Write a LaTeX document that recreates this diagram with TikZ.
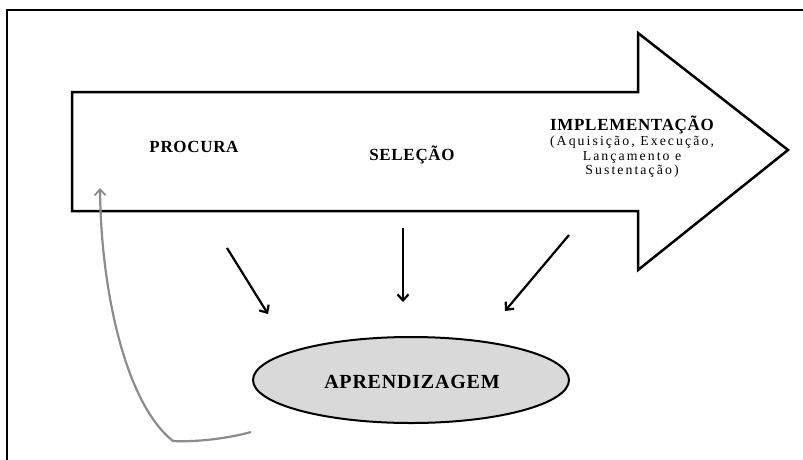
\documentclass[tikz,border=0pt]{standalone}
\usepackage{fontspec}
\setmainfont{Liberation Serif}
\newfontfamily\titlefont[LetterSpace=4]{Liberation Serif Bold}
\newfontfamily\detailfont[LetterSpace=15]{Liberation Serif}
\usetikzlibrary{arrows.meta}
\definecolor{ellfill}{HTML}{D9D9D9}
\definecolor{loopgray}{HTML}{8C8C8C}
\tikzset{
  stagelabel/.style={font=\titlefont\fontsize{17pt}{20pt}\selectfont, inner sep=0pt},
  detaillabel/.style={font=\detailfont\fontsize{13.8pt}{14.5pt}\selectfont, align=center, inner sep=0pt},
  flow/.style={line width=2.2pt, -{Straight Barb[length=6pt,width=11pt,line width=2.2pt]}},
  loopback/.style={line width=2.2pt, draw=loopgray, -{Straight Barb[length=6pt,width=11pt,line width=1.8pt]}},
}
\begin{document}
\begin{tikzpicture}[x=1pt,y=-1pt]
\useasboundingbox (0,0) rectangle (803,459);
% frame (top and left edges visible)
\draw[line width=1.6pt] (7,475) -- (7,10) -- (820,10);
% big process arrow
\draw[line width=2.5pt, line join=miter, fill=white]
  (72,92) -- (638,92) -- (638,33) -- (788,150) -- (638,270) -- (638,211) -- (72,211) -- cycle;
% stage labels
\node[stagelabel] (procura) at (194,147) {PROCURA};
\node[stagelabel] (selecao) at (412,155) {SELEÇÃO};
\node[stagelabel] (impl) at (632,125) {IMPLEMENTAÇÃO};
\node[detaillabel] (impldet) at (632,157) {(Aquisição, Execução,\\Lançamento e\\Sustentação)};
% learning ellipse
\draw[line width=2pt, fill=ellfill] (411,380) ellipse [x radius=158, y radius=43];
\node[font=\titlefont\fontsize{20pt}{23pt}\selectfont, inner sep=0pt] (aprend) at (412,382) {APRENDIZAGEM};
% arrow endpoints
\coordinate (a1s) at (227,248); \coordinate (a1e) at (268,314);
\coordinate (a2s) at (403,228); \coordinate (a2e) at (403,302);
\coordinate (a3s) at (569,235); \coordinate (a3e) at (505,311);
\draw[flow] (a1s) -- (a1e);
\draw[flow] (a2s) -- (a2e);
\draw[flow] (a3s) -- (a3e);
% feedback loop
\coordinate (ls) at (251,432);
\coordinate (lc) at (173,441);
\coordinate (le) at (100,188);
\draw[loopback] (ls) .. controls (222,440) and (190,442) .. (lc)
  .. controls (126,404) and (101,292) .. (le);
\end{tikzpicture}
\end{document}
